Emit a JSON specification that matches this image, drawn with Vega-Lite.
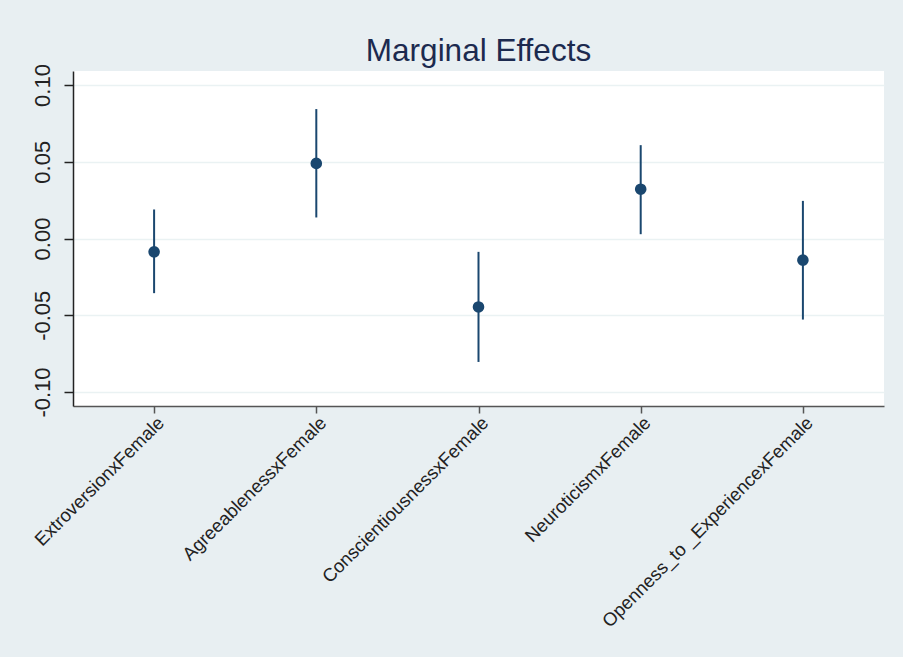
{
  "$schema": "https://vega.github.io/schema/vega-lite/v6.json",
  "autosize": {"type": "none"},
  "width": 811,
  "height": 335,
  "padding": {"left": 73, "top": 71, "right": 19, "bottom": 251},
  "background": "#e8eff2",
  "title": {
    "text": "Marginal Effects",
    "font": "Liberation Sans",
    "fontSize": 31.5,
    "fontWeight": "normal",
    "color": "#1c2a4f",
    "anchor": "middle",
    "frame": "group",
    "baseline": "alphabetic",
    "offset": 9,
    "dy": 38
  },
  "config": {
    "view": {"fill": "white", "stroke": null},
    "axis": {"labelFont": "Liberation Sans", "titleFont": "Liberation Sans"}
  },
  "data": {
    "values": [
      {"term": "ExtroversionxFemale", "est": -0.0087, "lo": -0.0356, "hi": 0.0189},
      {"term": "AgreeablenessxFemale", "est": 0.0489, "lo": 0.0137, "hi": 0.0843},
      {"term": "ConscientiousnessxFemale", "est": -0.0446, "lo": -0.0804, "hi": -0.0087},
      {"term": "NeuroticismxFemale", "est": 0.0321, "lo": 0.0028, "hi": 0.0608},
      {"term": "Openness_to _ExperiencexFemale", "est": -0.0141, "lo": -0.0528, "hi": 0.0245}
    ]
  },
  "encoding": {
    "x": {
      "field": "term",
      "type": "nominal",
      "sort": null,
      "scale": {"type": "point", "padding": 0.5},
      "axis": {
        "title": null,
        "labelAngle": -45,
        "labelAlign": "right",
        "labelBaseline": "top",
        "labelFontSize": 18.5,
        "labelLimit": 0,
        "labelColor": "#222222",
        "labelPadding": 0,
        "tickSize": 7,
        "tickColor": "#555555",
        "domainColor": "#555555",
        "domainWidth": 1.5,
        "tickWidth": 1.5,
        "grid": false
      }
    }
  },
  "layer": [
    {
      "mark": {"type": "rule", "color": "#1a476f", "strokeWidth": 2},
      "encoding": {
        "y": {
          "field": "lo",
          "type": "quantitative",
          "scale": {"domain": [-0.1091, 0.1091], "nice": false, "zero": false},
          "axis": {
            "title": null,
            "values": [-0.1, -0.05, 0, 0.05, 0.1],
            "labelExpr": "replace(format(datum.value, '.2f'), '\u2212', '-')",
            "labelAngle": -90,
            "labelAlign": "center",
            "labelBaseline": "bottom",
            "labelFontSize": 22,
            "labelColor": "#222222",
            "labelPadding": 10,
            "tickSize": 9,
            "tickColor": "#222222",
            "tickWidth": 1.5,
            "domainColor": "#222222",
            "domainWidth": 1.5,
            "grid": true,
            "gridColor": "#eaf2f3",
            "gridWidth": 1.5
          }
        },
        "y2": {"field": "hi"}
      }
    },
    {
      "mark": {"type": "point", "filled": true, "shape": "circle", "size": 135, "color": "#1a476f", "opacity": 1},
      "encoding": {
        "y": {"field": "est", "type": "quantitative"}
      }
    }
  ]
}
